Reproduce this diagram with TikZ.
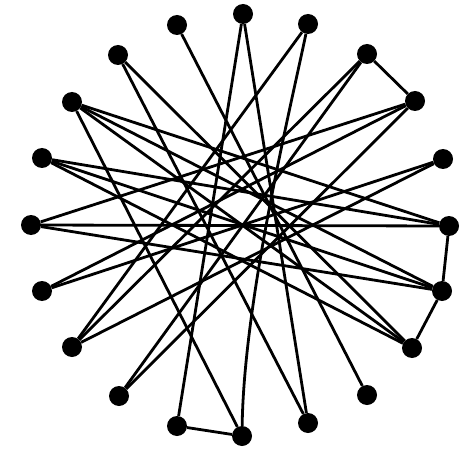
\documentclass[tikz,border=0pt]{standalone}
\begin{document}
\begin{tikzpicture}[x=1pt,y=-1pt,
  vtx/.style={circle,fill=black,inner sep=0pt,minimum size=20pt},
  edge/.style={draw=black,line width=2.8pt}]
\useasboundingbox[fill=white] (0,0) rectangle (468,449);
\node[vtx] (v0) at (449,226) {};
\node[vtx] (v1) at (443,159) {};
\node[vtx] (v2) at (415,101) {};
\node[vtx] (v3) at (367,54) {};
\node[vtx] (v4) at (308,24) {};
\node[vtx] (v5) at (243,14) {};
\node[vtx] (v6) at (177,25) {};
\node[vtx] (v7) at (118,55) {};
\node[vtx] (v8) at (72,102) {};
\node[vtx] (v9) at (42,158) {};
\node[vtx] (v10) at (31,225) {};
\node[vtx] (v11) at (42,291) {};
\node[vtx] (v12) at (72,347) {};
\node[vtx] (v13) at (119,396) {};
\node[vtx] (v14) at (177,426) {};
\node[vtx] (v15) at (242,436) {};
\node[vtx] (v16) at (308,423) {};
\node[vtx] (v17) at (367,395) {};
\node[vtx] (v18) at (412,348) {};
\node[vtx] (v19) at (442,291) {};
\foreach \p/\q in {2/3,14/15,18/19,19/0,5/14,5/16,4/12,3/12,3/13,2/10,2/11,2/13,1/11,1/12,0/10,0/9,19/9,19/8,19/10,18/8,18/7,16/7,15/8,9/18,8/0,6/17}
  \draw[edge] (v\p) -- (v\q);
\draw[edge] (v15) .. controls (244,300) and (290,110) .. (v4);
\end{tikzpicture}
\end{document}
